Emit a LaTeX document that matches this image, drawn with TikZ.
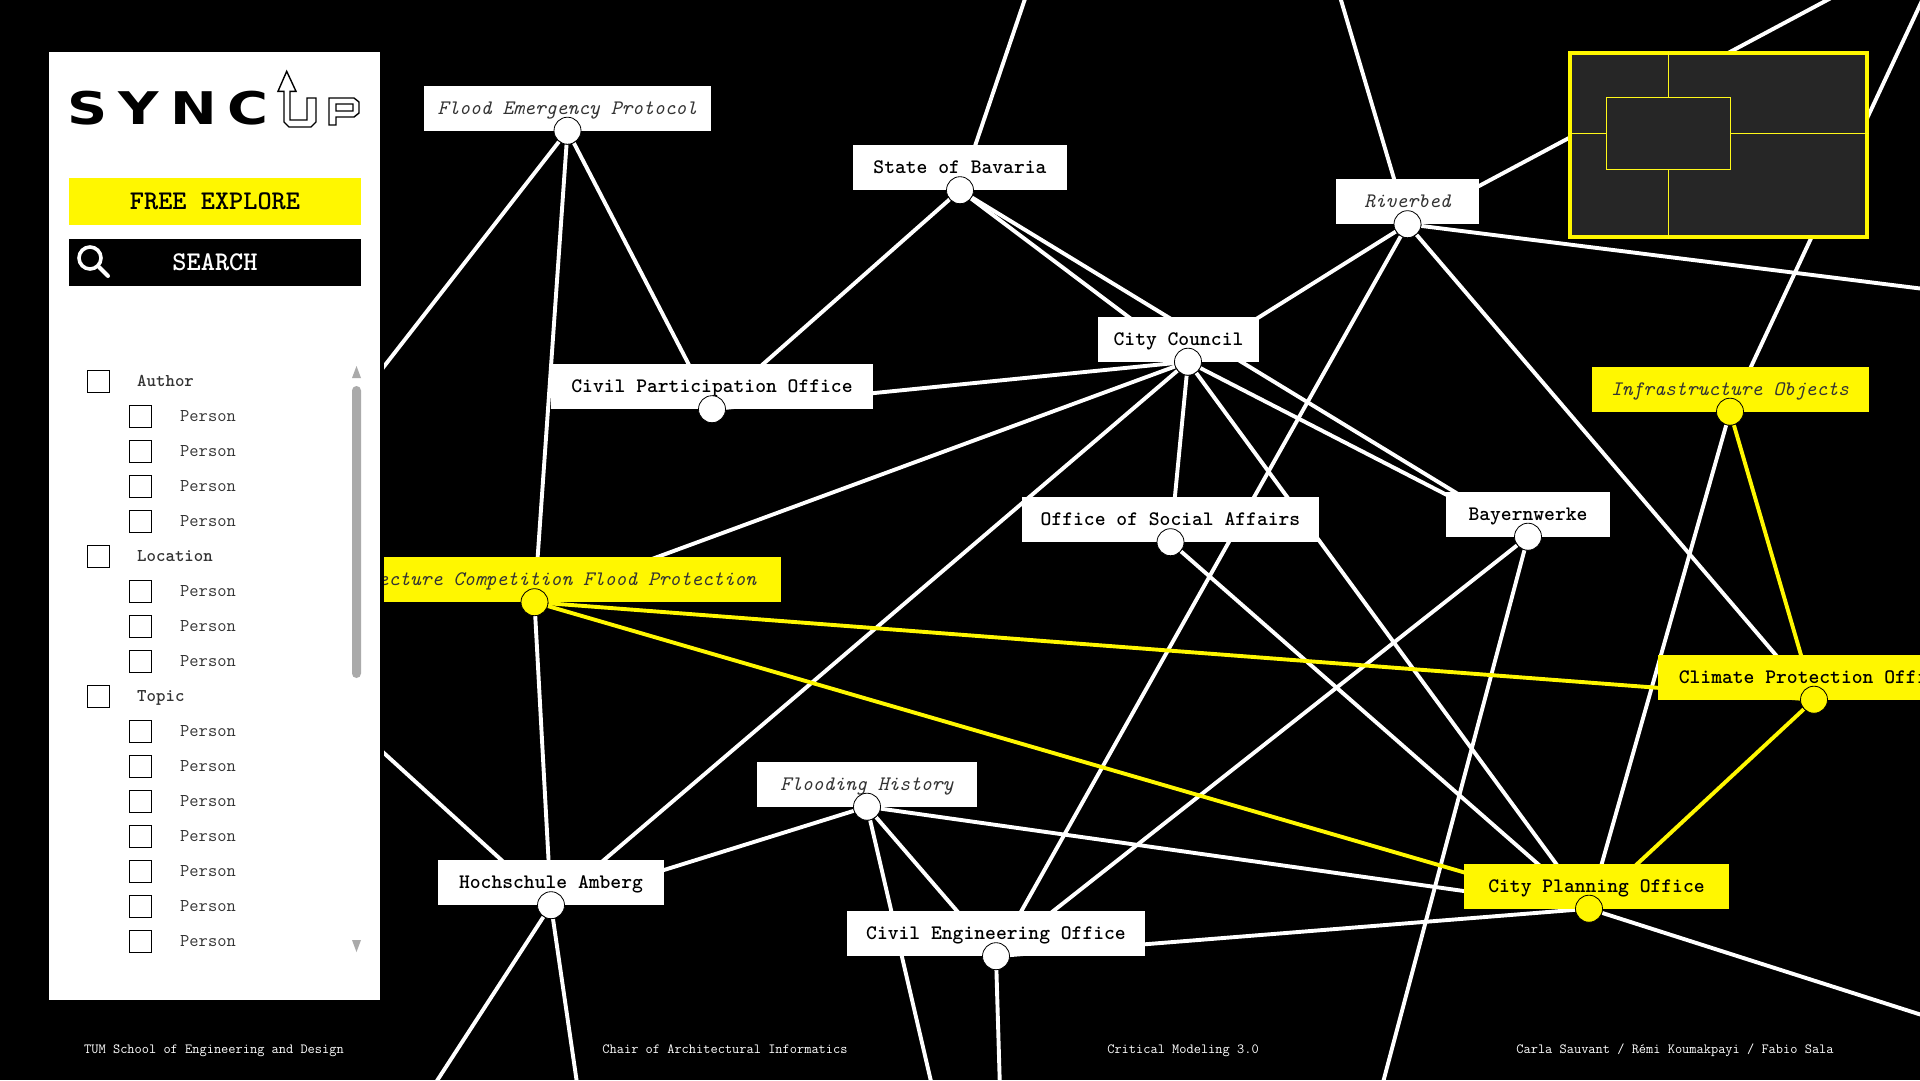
\documentclass[tikz,border=0pt]{standalone}
\usepackage{fontspec}
\usetikzlibrary{backgrounds}
\newfontfamily\logofont[LetterSpace=20]{DejaVu Sans}
\definecolor{signal}{HTML}{FFF700}
\definecolor{minimapbg}{HTML}{262626}
\definecolor{scrollgrey}{HTML}{AAAAAA}
\definecolor{softtext}{HTML}{333333}
\tikzset{
  entity/.style={rectangle, fill=white, minimum height=45pt, inner sep=0pt,
    text height=12pt, text depth=0pt, font=\ttfamily\bfseries\fontsize{20.6}{24}\selectfont},
  topic/.style={entity, font=\ttfamily\itshape\fontsize{20.6}{24}\selectfont, text=softtext},
  port/.style={circle, draw=black, line width=0.8pt, fill=white, minimum size=27pt, inner sep=0pt},
  link/.style={draw=white, line width=3.9pt},
  hotlink/.style={draw=signal, line width=3.9pt},
  checkbox/.style={rectangle, draw=black, line width=1pt, fill=white, minimum size=22pt, inner sep=0pt},
  group/.style={anchor=west, inner sep=0pt, text height=13pt, text depth=3pt,
    font=\ttfamily\bfseries\fontsize{18}{20}\selectfont, text=softtext},
  person/.style={anchor=west, inner sep=0pt, text height=13pt, text depth=3pt,
    font=\ttfamily\fontsize{18}{20}\selectfont, text=softtext},
  credit/.style={inner sep=0pt, text=white, text height=11pt, text depth=3pt,
    font=\ttfamily\fontsize{14}{16}\selectfont},
  action/.style={rectangle, minimum width=292pt, minimum height=47pt, inner sep=0pt,
    font=\ttfamily\bfseries\fontsize{27}{30}\selectfont}
}
\begin{document}
\begin{tikzpicture}[x=1pt, y=-1pt]
  \useasboundingbox (0,0) rectangle (1920,1080);
  \begin{scope}[on background layer]
    \fill[black] (0,0) rectangle (1920,1080);
  \end{scope}

  \begin{scope}
    \clip (384,0) rectangle (1920,1080);
    \node[topic, minimum width=287pt] (protocolbox) at (567.5,108) {Flood Emergency Protocol};
    \node[entity, minimum width=214pt] (bavariabox) at (960,167.5) {State of Bavaria};
    \node[topic, minimum width=143pt] (riverbedbox) at (1407.5,201.5) {Riverbed};
    \node[entity, minimum width=161pt] (councilbox) at (1178.5,339) {City Council};
    \node[entity, minimum width=322pt] (participationbox) at (712,386.5) {Civil Participation Office};
    \node[topic, fill=signal, minimum width=277pt] (objectsbox) at (1730,389) {Infrastructure Objects};
    \node[entity, minimum width=164pt] (bayernbox) at (1528,514) {Bayernwerke};
    \node[entity, minimum width=297pt] (socialbox) at (1170.5,519.5) {Office of Social Affairs};
    \node[topic, fill=signal, minimum width=493pt] (competitionbox) at (534.5,579.5) {Architecture Competition Flood Protection};
    \node[entity, fill=signal, minimum width=312pt] (climatebox) at (1814,677) {Climate Protection Office};
    \node[entity, fill=signal, minimum width=265pt] (planningbox) at (1596.5,886) {City Planning Office};
    \node[topic, minimum width=220pt] (historybox) at (867,784) {Flooding History};
    \node[entity, minimum width=226pt] (amberbox) at (551,882.5) {Hochschule Amberg};
    \node[entity, minimum width=298pt] (engineeringbox) at (996,933.5) {Civil Engineering Office};

    \node[port] (protocol) at (protocolbox.south) {};
    \node[port] (bavaria) at (bavariabox.south) {};
    \node[port] (riverbed) at (riverbedbox.south) {};
    \node[port, xshift=9.5pt] (council) at (councilbox.south) {};
    \node[port] (participation) at (participationbox.south) {};
    \node[port, fill=signal] (objects) at (objectsbox.south) {};
    \node[port] (bayern) at (bayernbox.south) {};
    \node[port] (social) at (socialbox.south) {};
    \node[port, fill=signal] (competition) at (competitionbox.south) {};
    \node[port, fill=signal] (climate) at (climatebox.south) {};
    \node[port, fill=signal, xshift=-7.5pt] (planning) at (planningbox.south) {};
    \node[port] (history) at (historybox.south) {};
    \node[port] (amber) at (amberbox.south) {};
    \node[port] (engineering) at (engineeringbox.south) {};
  \end{scope}

  \coordinate (offprotocol) at (340,423);
  \coordinate (offamber) at (340,713);
  \coordinate (offbavaria) at (1028,-10);
  \coordinate (offriver) at (1338,-10);
  \coordinate (offnortheast) at (1846,-10);
  \coordinate (offeast) at (1940,291);
  \coordinate (offobjects) at (1927,-10);
  \coordinate (offbayern) at (1381,1090);
  \coordinate (offamberleft) at (431,1090);
  \coordinate (offamberdown) at (578,1090);
  \coordinate (offhistory) at (933,1090);
  \coordinate (offengineering) at (1000,1090);
  \coordinate (offplanning) at (1950,1024);

  \begin{scope}[on background layer]
    \clip (384,0) rectangle (1920,1080);
    \draw[link] (protocol) -- (offprotocol);
    \draw[link] (protocol) -- (competition);
    \draw[link] (protocol) -- (participation);
    \draw[link] (bavaria) -- (offbavaria);
    \draw[link] (bavaria) -- (participation);
    \draw[link] (bavaria) -- (council);
    \draw[link] (bavaria) -- (bayern);
    \draw[link] (riverbed) -- (offriver);
    \draw[link] (riverbed) -- (offnortheast);
    \draw[link] (riverbed) -- (offeast);
    \draw[link] (riverbed) -- (council);
    \draw[link] (riverbed) -- (engineering);
    \draw[link] (riverbed) -- (climate);
    \draw[link] (council) -- (participation);
    \draw[link] (council) -- (competition);
    \draw[link] (council) -- (amber);
    \draw[link] (council) -- (social);
    \draw[link] (council) -- (planning);
    \draw[link] (council) -- (bayern);
    \draw[link] (objects) -- (offobjects);
    \draw[link] (objects) -- (planning);
    \draw[link] (competition) -- (amber);
    \draw[link] (social) -- (planning);
    \draw[link] (bayern) -- (engineering);
    \draw[link] (bayern) -- (offbayern);
    \draw[link] (history) -- (planning);
    \draw[link] (history) -- (engineering);
    \draw[link] (history) -- (offhistory);
    \draw[link] (history) -- (amber);
    \draw[link] (amber) -- (offamber);
    \draw[link] (amber) -- (offamberleft);
    \draw[link] (amber) -- (offamberdown);
    \draw[link] (engineering) -- (offengineering);
    \draw[link] (engineering) -- (planning);
    \draw[link] (planning) -- (offplanning);
    \draw[hotlink] (objects) -- (climate);
    \draw[hotlink] (climate) -- (planning);
    \draw[hotlink] (competition) -- (climate);
    \draw[hotlink] (competition) -- (planning);
  \end{scope}

  \node[rectangle, draw=signal, line width=4pt, fill=minimapbg, minimum width=297pt, minimum height=184pt,
    inner sep=0pt] (minimap) at (1718.5,145) {};
  \node[rectangle, draw=signal!90!white, line width=1pt, minimum width=124pt, minimum height=72pt,
    inner sep=0pt] (viewport) at (1668,133) {};
  \draw[signal!90!white, line width=1pt] (minimap.west |- viewport.west) -- (viewport.west);
  \draw[signal!90!white, line width=1pt] (viewport.east) -- (minimap.east |- viewport.east);
  \draw[signal!90!white, line width=1pt] (viewport.north) -- (viewport.north |- minimap.north);
  \draw[signal!90!white, line width=1pt] (viewport.south) -- (viewport.south |- minimap.south);

  \fill[white] (49,52) rectangle (380,1000);
  \node[anchor=west, inner sep=0pt] (logotext) at (67,108.5)
    {\scalebox{1.24}[1]{\logofont\bfseries\fontsize{45}{48}\selectfont SYNC}};
  \draw[line width=1.4pt, line join=miter, fill=white] (286.7,71.3) -- (296,91.3) -- (290,91.3)
    -- (290,120) -- (307,120) -- (307,98) -- (316,98) -- (316,122) -- (311,127) -- (289,127)
    -- (284,122) -- (284,91.3) -- (278,91.3) -- cycle;
  \draw[line width=1.4pt, even odd rule] (329,98) -- (354,98) -- (359,102) -- (359,113) -- (354,117)
    -- (336,117) -- (336,125) -- (329,125) -- cycle (336,104) -- (353,104) -- (353,111) -- (336,111) -- cycle;

  \node[action, fill=signal] (explore) at (215,201.5) {FREE EXPLORE};
  \node[action, fill=black, text=white] (searchbtn) at (215,262.5) {SEARCH};
  \node[circle, draw=white, line width=3.6pt, minimum size=22pt, inner sep=0pt] (lens) at (90,258) {};
  \coordinate (handle) at (108,276);
  \draw[white, line width=4pt, line cap=round] (lens) -- (handle);

  \node[checkbox] (authorcheck) at (98.5,381.5) {};
  \node[group] (author) at (137,381.5) {Author};
  \node[checkbox] (locationcheck) at (98.5,556.5) {};
  \node[group] (location) at (137,556.5) {Location};
  \node[checkbox] (topiccheck) at (98.5,696.5) {};
  \node[group] (topicgroup) at (137,696.5) {Topic};
  \foreach \y [count=\i] in {416.5,451.5,486.5,521.5,591.5,626.5,661.5,731.5,766.5,801.5,836.5,871.5,906.5,941.5} {
    \node[checkbox] (check\i) at (140.5,\y) {};
    \node[person] (person\i) at (180,\y) {Person};
  }

  \fill[scrollgrey, rounded corners=4.5pt] (352,386) rectangle (361,678);
  \fill[scrollgrey] (356.5,366) -- (361,378) -- (352,378) -- cycle;
  \fill[scrollgrey] (356.5,952) -- (361,940) -- (352,940) -- cycle;

  \node[credit] (school) at (214,1049) {TUM School of Engineering and Design};
  \node[credit] (chair) at (725,1049) {Chair of Architectural Informatics};
  \node[credit] (course) at (1183,1049) {Critical Modeling 3.0};
  \node[credit] (authors) at (1675,1049) {Carla Sauvant / Rémi Koumakpayi / Fabio Sala};
\end{tikzpicture}
\end{document}
